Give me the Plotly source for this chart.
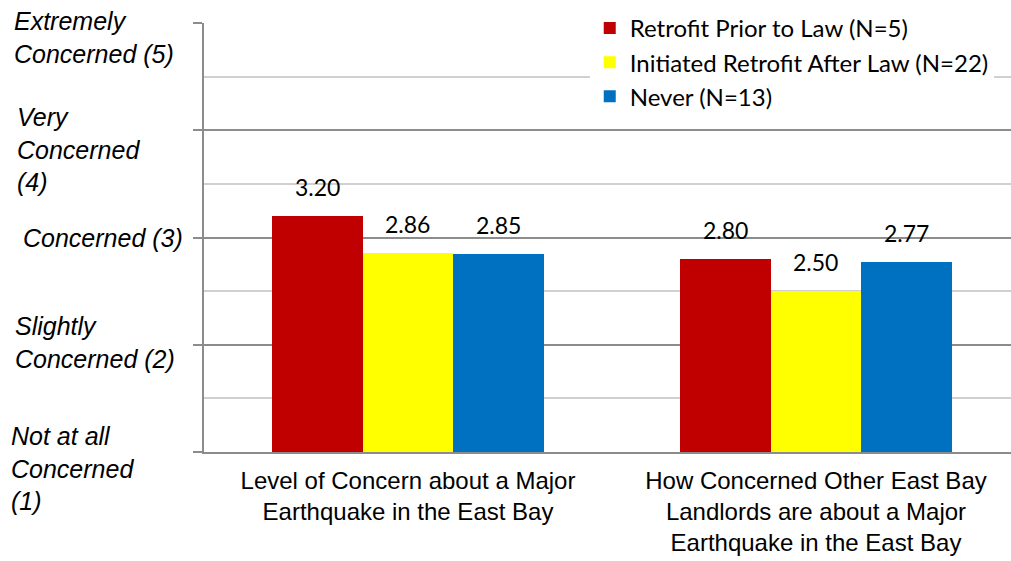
import plotly.graph_objects as go

# Survey results: mean concern rating by retrofit group
categories = [
    "Level of Concern about a Major<br>Earthquake in the East Bay",
    "How Concerned Other East Bay<br>Landlords are about a Major<br>Earthquake in the East Bay",
]
series_names = [
    "Retrofit Prior to Law (N=5)",
    "Initiated Retrofit After Law (N=22)",
    "Never (N=13)",
]
retrofit_prior = [3.20, 2.80]
retrofit_after = [2.86, 2.50]
never_retrofit = [2.85, 2.77]
series_values = [retrofit_prior, retrofit_after, never_retrofit]
series_colors = ["#C00000", "#FFFF00", "#0070C0"]

# Rating scale labels (value, text)
scale_values = [5, 4, 3, 2, 1]
scale_labels = [
    "Extremely<br>Concerned (5)",
    "Very<br>Concerned<br>(4)",
    "Concerned (3)",
    "Slightly<br>Concerned (2)",
    "Not at all<br>Concerned<br>(1)",
]
# per-label placement tweaks (px) for the left-aligned scale text
scale_xshift = [-192, -189, -183, -191, -195]
scale_yshift = [-14, -19, 0, 2, -16]

MAJOR = "#8C8C8C"
MINOR = "#D0D0D0"
BAR_W = 0.222
offsets = [-BAR_W, 0.0, BAR_W]

fig = go.Figure()
for name, vals, color, off in zip(series_names, series_values, series_colors, offsets):
    fig.add_trace(go.Bar(
        x=list(range(len(categories))),
        y=vals,
        name=name,
        width=BAR_W,
        offset=off - BAR_W / 2,
        marker=dict(color=color, line=dict(width=0)),
    ))

annotations = []
# value labels above each bar
for vals, off in zip(series_values, offsets):
    for i, v in enumerate(vals):
        annotations.append(dict(
            x=i + off, y=v, xref="x", yref="y",
            text=f"{v:.2f}", showarrow=False,
            yanchor="bottom", xanchor="center", yshift=13,
            font=dict(family="Lato", size=23, color="#000000"),
        ))
# scale labels on the left
for val, txt, xs, ys in zip(scale_values, scale_labels, scale_xshift, scale_yshift):
    annotations.append(dict(
        x=0, y=val, xref="paper", yref="y",
        text=f"<i>{txt}</i>", showarrow=False, align="left",
        xanchor="left", yanchor="middle", xshift=xs, yshift=ys,
        font=dict(family="Liberation Sans", size=25, color="#000000"),
    ))

fig.update_layout(
    width=1011, height=561,
    margin=dict(l=204, r=0, t=23, b=109, autoexpand=False),
    paper_bgcolor="white", plot_bgcolor="white",
    showlegend=True,
    legend=dict(
        x=0.478, y=1.04, xanchor="left", yanchor="top",
        bgcolor="white", borderwidth=0,
        font=dict(family="Lato", size=24, color="#000000"),
        tracegroupgap=0,
    ),
    annotations=annotations,
    xaxis=dict(
        range=[-0.5, 1.478], automargin=False,
        tickmode="array", tickvals=[0, 1], ticktext=categories,
        showgrid=False, zeroline=False,
        showline=True, linecolor=MAJOR, linewidth=2,
        ticks="", ticklabelstandoff=6,
        tickfont=dict(family="Liberation Sans", size=24, color="#000000"),
    ),
    yaxis=dict(
        range=[1, 5], dtick=1, tick0=1, automargin=False,
        showgrid=True, gridcolor=MAJOR, gridwidth=1.5,
        zeroline=False, showticklabels=False,
        showline=True, linecolor=MAJOR, linewidth=2,
        ticks="outside", ticklen=9, tickcolor=MAJOR, tickwidth=1.5,
        minor=dict(dtick=0.5, tick0=1, showgrid=True, gridcolor=MINOR, gridwidth=1.5),
    ),
    bargap=0,
)

# category boundary ticks on the x axis
fig.add_trace(go.Scatter(
    x=[-0.5, -0.5, None, 0.5, 0.5], y=[1, 0.93, None, 1, 0.93],
    mode="lines", line=dict(color=MAJOR, width=1.5),
    showlegend=False, hoverinfo="skip", cliponaxis=False,
))

fig.write_html("out.html")
